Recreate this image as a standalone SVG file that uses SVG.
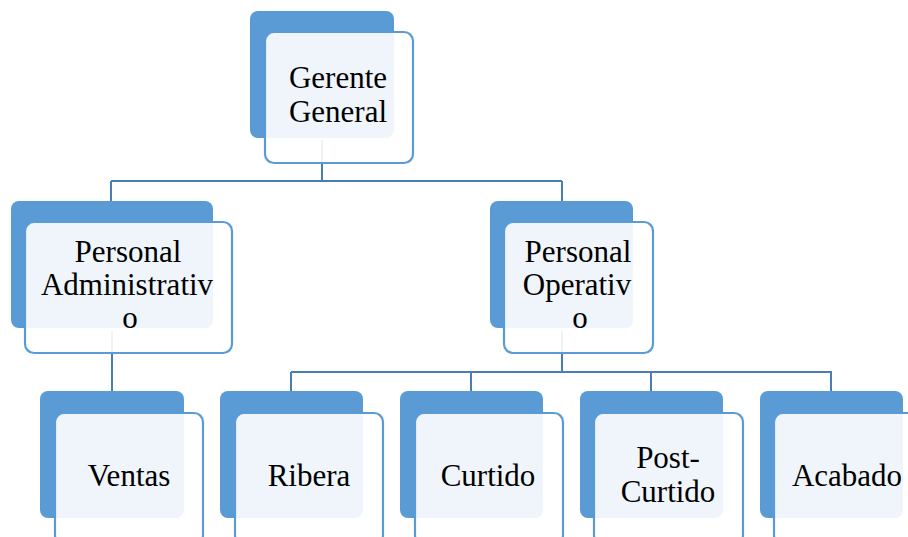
<svg xmlns="http://www.w3.org/2000/svg" width="908" height="537" viewBox="0 0 908 537">
<style>
.back{fill:#5B9BD5;}
.front{fill:#FFFFFF;fill-opacity:0.9;stroke:#5B9BD5;stroke-width:2.2;}
.lbl{font-family:"Liberation Serif","Times New Roman",serif;font-size:31px;fill:#000;text-anchor:middle;}
.con{fill:none;stroke:#4A7DB5;stroke-width:2;}
</style>
<rect width="908" height="537" fill="#FFFFFF"/>
<g id="connectors">
<path class="con" d="M322,140 V181 M111,181 H562 M111,181 V201 M562,181 V201"/>
<path class="con" d="M112,331 V391"/>
<path class="con" d="M562,331 V372 M291,372 H832 M291,372 V391 M471,372 V391 M651,372 V391 M831,372 V391"/>
</g>
<g id="gerente">
<rect class="back" x="250" y="11" width="144" height="127" rx="8"/>
<rect class="front" x="265" y="32" width="148" height="131" rx="9"/>
<text class="lbl" x="338" y="88">Gerente</text>
<text class="lbl" x="338" y="122">General</text>
</g>
<g id="administrativo">
<rect class="back" x="11" y="201" width="202" height="127" rx="8"/>
<rect class="front" x="25" y="222" width="207" height="131" rx="9"/>
<text class="lbl" x="128" y="262">Personal</text>
<text class="lbl" x="127" y="295">Administrativ</text>
<text class="lbl" x="130" y="328">o</text>
</g>
<g id="operativo">
<rect class="back" x="490" y="201" width="143" height="127" rx="8"/>
<rect class="front" x="504" y="222" width="149" height="131" rx="9"/>
<text class="lbl" x="578" y="262">Personal</text>
<text class="lbl" x="577" y="295">Operativ</text>
<text class="lbl" x="580" y="328">o</text>
</g>
<g id="ventas">
<rect class="back" x="40" y="391" width="144" height="127" rx="8"/>
<rect class="front" x="55" y="413" width="148" height="131" rx="9"/>
<text class="lbl" x="129" y="486">Ventas</text>
</g>
<g id="ribera">
<rect class="back" x="220" y="391" width="143" height="127" rx="8"/>
<rect class="front" x="235" y="413" width="148" height="131" rx="9"/>
<text class="lbl" x="309" y="486">Ribera</text>
</g>
<g id="curtido">
<rect class="back" x="400" y="391" width="143" height="127" rx="8"/>
<rect class="front" x="415" y="413" width="148" height="131" rx="9"/>
<text class="lbl" x="488" y="486">Curtido</text>
</g>
<g id="postcurtido">
<rect class="back" x="580" y="391" width="143" height="127" rx="8"/>
<rect class="front" x="594" y="413" width="149" height="131" rx="9"/>
<text class="lbl" x="668" y="468">Post-</text>
<text class="lbl" x="668" y="502">Curtido</text>
</g>
<g id="acabado">
<rect class="back" x="760" y="391" width="143" height="127" rx="8"/>
<rect class="front" x="774" y="413" width="149" height="131" rx="9"/>
<text class="lbl" x="847" y="486">Acabado</text>
</g>
</svg>
